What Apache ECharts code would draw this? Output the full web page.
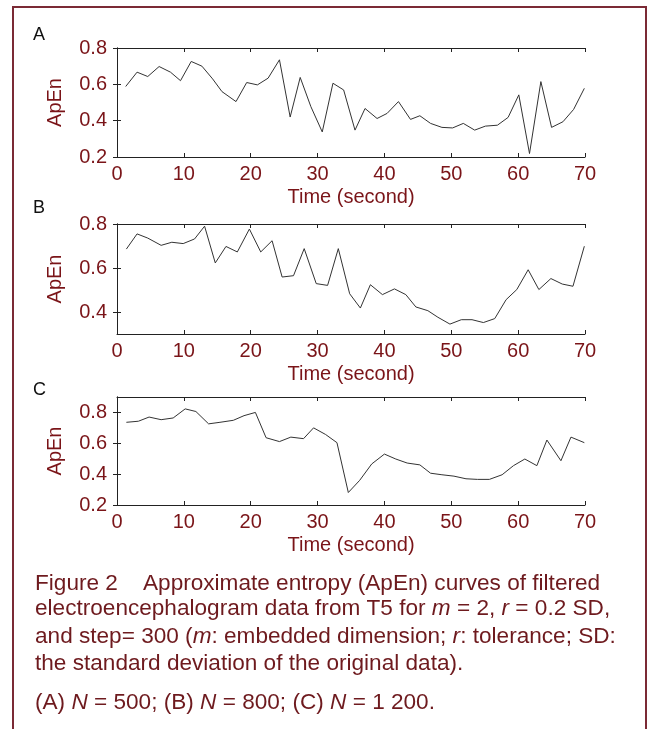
<!DOCTYPE html>
<html>
<head>
<meta charset="utf-8">
<script src="https://cdn.jsdelivr.net/npm/echarts@6/dist/echarts.min.js"></script>
<style>
  html, body { margin: 0; padding: 0; background: #fff; }
  #chart { width: 648px; height: 729px; }
</style>
</head>
<body>
<div id="chart"></div>
<script>
// panel A (N = 500)
var timeA = [1.3, 3.0, 4.6, 6.3, 8.0, 9.5, 11.1, 12.7, 14.3, 15.7, 17.8, 19.4, 21.0, 22.6, 24.3, 25.9, 27.4, 29.0, 30.7,
  32.3, 33.9, 35.6, 37.1, 38.9, 40.4, 42.1, 43.9, 45.3, 46.9, 48.6, 50.2, 51.8, 53.5, 55.1, 56.9, 58.5, 60.1, 61.7,
  63.4, 65.0, 66.7, 68.3, 69.9];
var apenA = [0.588, 0.667, 0.643, 0.698, 0.667, 0.62, 0.726, 0.70, 0.63, 0.56, 0.505, 0.61, 0.597, 0.634, 0.735, 0.42,
  0.638, 0.477, 0.338, 0.606, 0.569, 0.348, 0.467, 0.412, 0.44, 0.505, 0.407, 0.427, 0.385, 0.363, 0.36, 0.385,
  0.348, 0.37, 0.375, 0.418, 0.542, 0.219, 0.615, 0.363, 0.394, 0.462, 0.578];

// panel B (N = 800)
var timeB = [1.4, 3.0, 4.6, 6.6, 8.2, 9.9, 11.6, 13.1, 14.7, 16.3, 18.0, 19.8, 21.5, 23.2, 24.7, 26.4, 28.0, 29.8,
  31.5, 33.1, 34.8, 36.4, 37.9, 39.7, 41.5, 43.2, 44.7, 46.5, 48.0, 49.8, 51.5, 53.1, 54.8, 56.5, 58.2, 59.8, 61.5,
  63.1, 64.9, 66.6, 68.2, 69.9];
var apenB = [0.686, 0.755, 0.736, 0.703, 0.717, 0.711, 0.732, 0.79, 0.623, 0.698, 0.673, 0.777, 0.673, 0.724, 0.559,
  0.565, 0.688, 0.529, 0.521, 0.688, 0.483, 0.418, 0.524, 0.479, 0.505, 0.479, 0.423, 0.406, 0.376, 0.345, 0.365,
  0.365, 0.352, 0.37, 0.456, 0.502, 0.592, 0.502, 0.552, 0.527, 0.517, 0.699];

// panel C (N = 1 200)
var timeC = [1.4, 3.2, 4.8, 6.6, 8.4, 10.2, 11.8, 13.7, 15.4, 17.4, 19.0, 20.7, 22.3, 24.3, 26.0, 27.9, 29.4, 31.2,
  32.9, 34.6, 36.3, 38.1, 40.0, 41.7, 43.4, 45.3, 46.9, 48.6, 50.4, 52.2, 53.9, 55.7, 57.6, 59.3, 61.0, 62.8, 64.3,
  66.4, 67.9, 69.9];
var apenC = [0.736, 0.743, 0.77, 0.753, 0.764, 0.823, 0.806, 0.726, 0.736, 0.749, 0.779, 0.80, 0.636, 0.611, 0.64,
  0.63, 0.70, 0.657, 0.604, 0.281, 0.36, 0.466, 0.53, 0.498, 0.472, 0.46, 0.406, 0.396, 0.387, 0.37, 0.366, 0.366,
  0.396, 0.455, 0.498, 0.455, 0.621, 0.487, 0.64, 0.604];

var xTicks = [0, 10, 20, 30, 40, 50, 60, 70];
var yTicksA = [0.2, 0.4, 0.6, 0.8];
var yTicksB = [0.4, 0.6, 0.8];
var yTicksC = [0.2, 0.4, 0.6, 0.8];

var red = '#7a1418';
var font = 'Liberation Sans, Arial, sans-serif';

function pairs(t, v) {
  return t.map(function (x, i) { return [x, v[i]]; });
}

var panels = [
  { label: 'A', labelY: 35, top: 48, height: 109, min: 0.2, max: 0.8, ticks: yTicksA, data: pairs(timeA, apenA) },
  { label: 'B', labelY: 208, top: 224, height: 110, min: 0.3, max: 0.8, ticks: yTicksB, data: pairs(timeB, apenB) },
  { label: 'C', labelY: 390, top: 397, height: 108, min: 0.2, max: 0.9, ticks: yTicksC, data: pairs(timeC, apenC) }
];

var grids = [], xAxes = [], yAxes = [], series = [], graphics = [];
var boxLine = { show: true, lineStyle: { color: '#222', width: 1 } };
var tick = { inside: true, length: 4, lineStyle: { color: '#222' } };

panels.forEach(function (p, i) {
  grids.push({ left: 117, right: 63, top: p.top, height: p.height });
  // bottom axis
  xAxes.push({
    type: 'value', gridIndex: i, min: 0, max: 70, interval: 10, position: 'bottom',
    axisLine: boxLine, splitLine: { show: false }, axisTick: tick,
    axisLabel: { color: red, fontSize: 20, fontFamily: font, margin: 7 },
    name: 'Time (second)', nameLocation: 'middle', nameGap: 30,
    nameTextStyle: { color: red, fontSize: 20, fontFamily: font }
  });
  // top mirror
  xAxes.push({
    type: 'value', gridIndex: i, min: 0, max: 70, interval: 10, position: 'top',
    axisLine: boxLine, splitLine: { show: false }, axisTick: tick,
    axisLabel: { show: false }
  });
  yAxes.push({
    type: 'value', gridIndex: i, min: p.min, max: p.max, position: 'left',
    axisLine: boxLine, splitLine: { show: false },
    axisTick: { inside: true, length: 4, customValues: p.ticks, lineStyle: { color: '#222' } },
    axisLabel: {
      color: red, fontSize: 20, fontFamily: font, margin: 10, customValues: p.ticks,
      formatter: function (v) { return v.toFixed(1); }
    },
    name: 'ApEn', nameLocation: 'middle', nameGap: 52, nameRotate: 90,
    nameTextStyle: { color: red, fontSize: 20, fontFamily: font }
  });
  yAxes.push({
    type: 'value', gridIndex: i, min: p.min, max: p.max, position: 'right',
    axisLine: boxLine, splitLine: { show: false },
    axisTick: { inside: true, length: 4, customValues: p.ticks, lineStyle: { color: '#222' } },
    axisLabel: { show: false }
  });
  series.push({
    type: 'line', xAxisIndex: i * 2, yAxisIndex: i * 2, data: p.data,
    showSymbol: false, symbol: 'none', lineStyle: { color: '#333', width: 1 }
  });
  graphics.push({
    type: 'text', x: 33, y: p.labelY,
    style: { text: p.label, fontSize: 18, fontFamily: font, fill: '#111', verticalAlign: 'middle' }
  });
});

// caption, line by line
var capLines = [
  'Figure 2    Approximate entropy (ApEn) curves of filtered',
  'electroencephalogram data from T5 for {i|m} = 2, {i|r} = 0.2 SD,',
  'and step= 300 ({i|m}: embedded dimension; {i|r}: tolerance; SD:',
  'the standard deviation of the original data).',
  '(A) {i|N} = 500; (B) {i|N} = 800; (C) {i|N} = 1 200.'
];
var capY = [584, 609, 637, 664, 703];
capLines.forEach(function (t, k) {
  graphics.push({
    type: 'text', x: 35, y: capY[k],
    style: {
      text: t, fontSize: 22.6, fontFamily: font, fill: '#6e1a1e', verticalAlign: 'middle',
      rich: { i: { fontStyle: 'italic', fontSize: 22.6, fontFamily: font, fill: '#6e1a1e' } }
    }
  });
});

// frame
graphics.push({
  type: 'polyline',
  shape: { points: [[13, 729], [13, 7], [646, 7], [646, 729]] },
  style: { stroke: '#7b2a35', lineWidth: 2, fill: null }
});

var chart = echarts.init(document.getElementById('chart'));
chart.setOption({
  backgroundColor: '#fff',
  animation: false,
  grid: grids,
  xAxis: xAxes,
  yAxis: yAxes,
  series: series,
  graphic: graphics
});
</script>
</body>
</html>
